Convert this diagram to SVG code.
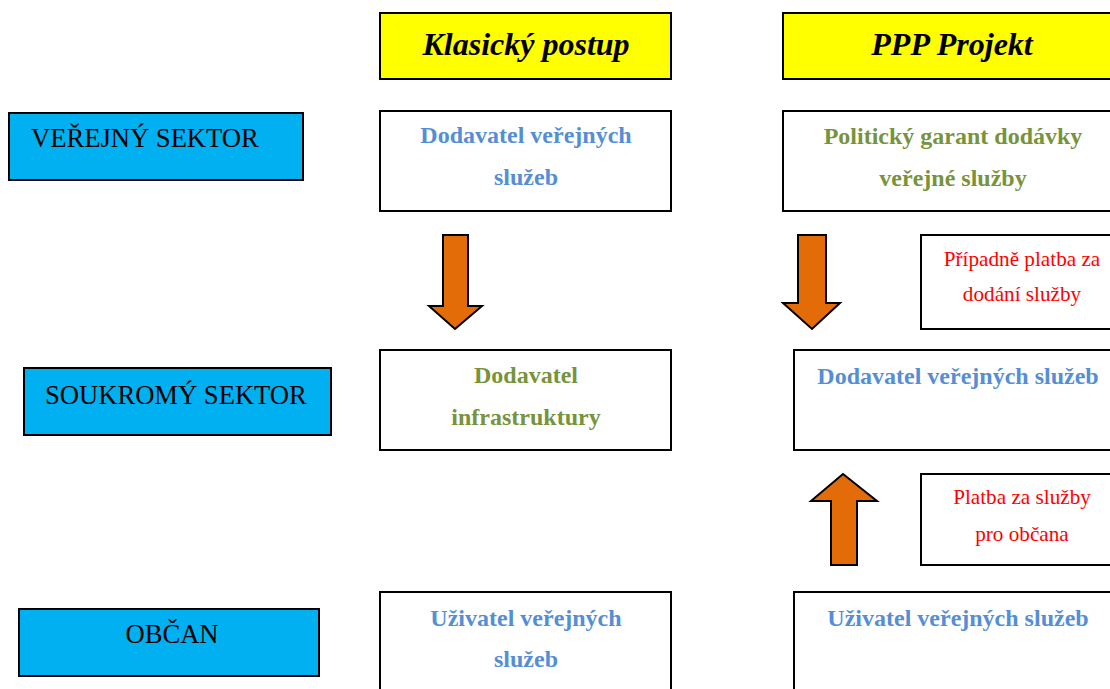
<svg xmlns="http://www.w3.org/2000/svg" width="1110" height="689" viewBox="0 0 1110 689">
  <style>
    .sector { fill: #00B0F0; stroke: #000; stroke-width: 2; }
    .head { fill: #FFFF00; stroke: #000; stroke-width: 2; }
    .box { fill: #fff; stroke: #000; stroke-width: 2; }
    .t { font-family: "Liberation Serif", "Times New Roman", serif; }
    .sec { font-size: 26.6px; fill: #000; }
    .ht { font-size: 32px; font-weight: bold; font-style: italic; fill: #000; text-anchor: middle; }
    .blue { font-size: 24px; font-weight: bold; fill: #558ED5; text-anchor: middle; }
    .green { font-size: 24px; font-weight: bold; fill: #77933C; text-anchor: middle; }
    .red { font-size: 21.2px; fill: #FF0000; text-anchor: middle; }
    .arrow { fill: #E36C09; stroke: #000; stroke-width: 2; stroke-linejoin: miter; }
  </style>

  <!-- row labels -->
  <g id="verejny-sektor">
    <rect class="sector" x="9" y="113" width="294" height="67"/>
    <text class="t sec" x="31" y="147">VEŘEJNÝ SEKTOR</text>
  </g>
  <g id="soukromy-sektor">
    <rect class="sector" x="24" y="368" width="307" height="67"/>
    <text class="t sec" x="45" y="404">SOUKROMÝ SEKTOR</text>
  </g>
  <g id="obcan">
    <rect class="sector" x="19" y="609" width="300" height="67"/>
    <text class="t sec" x="172" y="643" text-anchor="middle">OBČAN</text>
  </g>

  <!-- column: Klasický postup -->
  <g id="klasicky-postup">
    <rect class="head" x="380" y="13" width="291" height="66"/>
    <text class="t ht" x="526" y="55">Klasický postup</text>
  </g>
  <g id="k-dodavatel-sluzeb">
    <rect class="box" x="380" y="111" width="291" height="100"/>
    <text class="t blue" x="526" y="143">Dodavatel veřejných</text>
    <text class="t blue" x="526" y="185">služeb</text>
  </g>
  <g id="k-dodavatel-infrastruktury">
    <rect class="box" x="380" y="350" width="291" height="100"/>
    <text class="t green" x="526" y="383">Dodavatel</text>
    <text class="t green" x="526" y="425">infrastruktury</text>
  </g>
  <g id="k-uzivatel">
    <rect class="box" x="380" y="592" width="291" height="110"/>
    <text class="t blue" x="526" y="626">Uživatel veřejných</text>
    <text class="t blue" x="526" y="667">služeb</text>
  </g>

  <!-- column: PPP Projekt -->
  <g id="ppp-projekt">
    <rect class="head" x="783" y="13" width="340" height="66"/>
    <text class="t ht" x="952" y="55">PPP Projekt</text>
  </g>
  <g id="p-politicky-garant">
    <rect class="box" x="783" y="111" width="340" height="100"/>
    <text class="t green" x="953" y="144">Politický garant dodávky</text>
    <text class="t green" x="953" y="186">veřejné služby</text>
  </g>
  <g id="p-platba-dodani">
    <rect class="box" x="921" y="235" width="200" height="94"/>
    <text class="t red" x="1022" y="266">Případně platba za</text>
    <text class="t red" x="1022" y="301">dodání služby</text>
  </g>
  <g id="p-dodavatel-sluzeb">
    <rect class="box" x="794" y="350" width="330" height="100"/>
    <text class="t blue" x="958" y="384">Dodavatel veřejných služeb</text>
  </g>
  <g id="p-platba-obcan">
    <rect class="box" x="921" y="474" width="200" height="91"/>
    <text class="t red" x="1022" y="504">Platba za služby</text>
    <text class="t red" x="1022" y="541">pro občana</text>
  </g>
  <g id="p-uzivatel">
    <rect class="box" x="794" y="592" width="330" height="110"/>
    <text class="t blue" x="958" y="626">Uživatel veřejných služeb</text>
  </g>

  <!-- block arrows -->
  <g id="connectors">
    <path class="arrow" d="M443,235 H468 V306 H482 L455,329 L429,306 H443 Z"/>
    <path class="arrow" d="M798,235 H826 V303 H840 L812,329 L783,303 H798 Z"/>
    <path class="arrow" d="M831,565 H857 V501 H877 L843,474 L811,501 H831 Z"/>
  </g>
</svg>
